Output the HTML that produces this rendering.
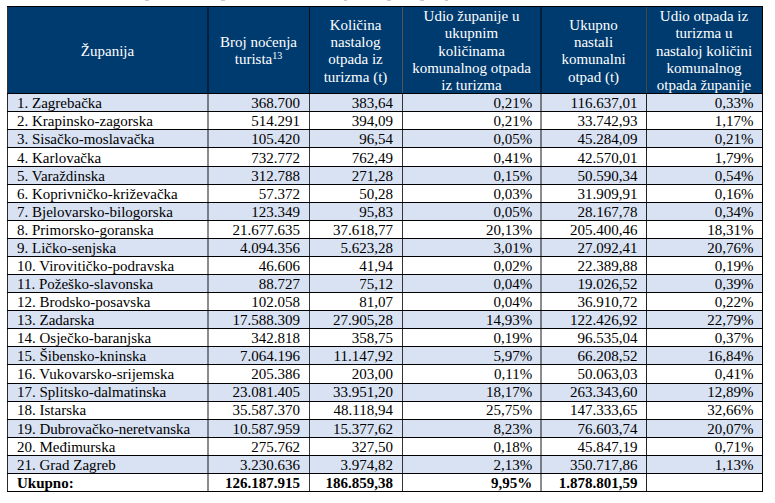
<!DOCTYPE html><html><head><meta charset="utf-8"><style>
html,body{margin:0;padding:0;background:#fff;width:775px;height:503px;overflow:hidden;position:relative}
*{box-sizing:border-box}
.t{position:absolute;font-family:"Liberation Serif",serif;font-size:15px;line-height:18px;white-space:nowrap;color:#000}
.r{text-align:right}
.b{font-weight:bold}
.f{position:absolute}
.hl{position:absolute;font-family:"Liberation Serif",serif;font-size:15px;line-height:16px;color:#fff;text-align:center;white-space:nowrap}
sup{font-size:10px;line-height:0;vertical-align:5px}
</style></head><body>
<div class="f" style="left:7px;top:6px;width:755px;height:87px;background:#003B70"></div>
<div class="f" style="left:7px;top:93.00px;width:755px;height:18.00px;background:#D9E2F3"></div>
<div class="f" style="left:7px;top:129.00px;width:755px;height:18.00px;background:#D9E2F3"></div>
<div class="f" style="left:7px;top:166.00px;width:755px;height:18.00px;background:#D9E2F3"></div>
<div class="f" style="left:7px;top:202.00px;width:755px;height:18.00px;background:#D9E2F3"></div>
<div class="f" style="left:7px;top:238.00px;width:755px;height:18.00px;background:#D9E2F3"></div>
<div class="f" style="left:7px;top:274.00px;width:755px;height:18.00px;background:#D9E2F3"></div>
<div class="f" style="left:7px;top:310.00px;width:755px;height:18.00px;background:#D9E2F3"></div>
<div class="f" style="left:7px;top:346.00px;width:755px;height:18.00px;background:#D9E2F3"></div>
<div class="f" style="left:7px;top:383.00px;width:755px;height:18.00px;background:#D9E2F3"></div>
<div class="f" style="left:7px;top:419.00px;width:755px;height:18.00px;background:#D9E2F3"></div>
<div class="f" style="left:7px;top:455.00px;width:755px;height:18.00px;background:#D9E2F3"></div>
<div class="hl" style="left:7px;top:43px;width:201px">Županija</div>
<div class="hl" style="left:208px;top:34px;width:101px">Broj noćenja</div>
<div class="hl" style="left:208px;top:51px;width:101px">turista<sup>13</sup></div>
<div class="hl" style="left:309px;top:17px;width:93px">Količina</div>
<div class="hl" style="left:309px;top:34px;width:93px">nastalog</div>
<div class="hl" style="left:309px;top:51px;width:93px">otpada iz</div>
<div class="hl" style="left:309px;top:69px;width:93px">turizma (t)</div>
<div class="hl" style="left:402px;top:8px;width:139px">Udio županije u</div>
<div class="hl" style="left:402px;top:25px;width:139px">ukupnim</div>
<div class="hl" style="left:402px;top:43px;width:139px">količinama</div>
<div class="hl" style="left:402px;top:60px;width:139px">komunalnog otpada</div>
<div class="hl" style="left:402px;top:77px;width:139px">iz turizma</div>
<div class="hl" style="left:541px;top:17px;width:105px">Ukupno</div>
<div class="hl" style="left:541px;top:34px;width:105px">nastali</div>
<div class="hl" style="left:541px;top:51px;width:105px">komunalni</div>
<div class="hl" style="left:541px;top:69px;width:105px">otpad (t)</div>
<div class="hl" style="left:646px;top:8px;width:116px">Udio otpada iz</div>
<div class="hl" style="left:646px;top:25px;width:116px">turizma u</div>
<div class="hl" style="left:646px;top:43px;width:116px">nastaloj količini</div>
<div class="hl" style="left:646px;top:60px;width:116px">komunalnog</div>
<div class="hl" style="left:646px;top:77px;width:116px">otpada županije</div>
<div class="t" style="left:17px;top:93.94px">1. Zagrebačka</div>
<div class="t r" style="right:475.00px;top:93.94px">368.700</div>
<div class="t r" style="right:382.00px;top:93.94px">383,64</div>
<div class="t r" style="right:242.80px;top:93.94px">0,21%</div>
<div class="t r" style="right:137.50px;top:93.94px">116.637,01</div>
<div class="t r" style="right:21.50px;top:93.94px">0,33%</div>
<div class="t" style="left:17px;top:111.94px">2. Krapinsko-zagorska</div>
<div class="t r" style="right:475.00px;top:111.94px">514.291</div>
<div class="t r" style="right:382.00px;top:111.94px">394,09</div>
<div class="t r" style="right:242.80px;top:111.94px">0,21%</div>
<div class="t r" style="right:137.50px;top:111.94px">33.742,93</div>
<div class="t r" style="right:21.50px;top:111.94px">1,17%</div>
<div class="t" style="left:17px;top:129.94px">3. Sisačko-moslavačka</div>
<div class="t r" style="right:475.00px;top:129.94px">105.420</div>
<div class="t r" style="right:382.00px;top:129.94px">96,54</div>
<div class="t r" style="right:242.80px;top:129.94px">0,05%</div>
<div class="t r" style="right:137.50px;top:129.94px">45.284,09</div>
<div class="t r" style="right:21.50px;top:129.94px">0,21%</div>
<div class="t" style="left:17px;top:148.94px">4. Karlovačka</div>
<div class="t r" style="right:475.00px;top:148.94px">732.772</div>
<div class="t r" style="right:382.00px;top:148.94px">762,49</div>
<div class="t r" style="right:242.80px;top:148.94px">0,41%</div>
<div class="t r" style="right:137.50px;top:148.94px">42.570,01</div>
<div class="t r" style="right:21.50px;top:148.94px">1,79%</div>
<div class="t" style="left:17px;top:166.94px">5. Varaždinska</div>
<div class="t r" style="right:475.00px;top:166.94px">312.788</div>
<div class="t r" style="right:382.00px;top:166.94px">271,28</div>
<div class="t r" style="right:242.80px;top:166.94px">0,15%</div>
<div class="t r" style="right:137.50px;top:166.94px">50.590,34</div>
<div class="t r" style="right:21.50px;top:166.94px">0,54%</div>
<div class="t" style="left:17px;top:184.94px">6. Koprivničko-križevačka</div>
<div class="t r" style="right:475.00px;top:184.94px">57.372</div>
<div class="t r" style="right:382.00px;top:184.94px">50,28</div>
<div class="t r" style="right:242.80px;top:184.94px">0,03%</div>
<div class="t r" style="right:137.50px;top:184.94px">31.909,91</div>
<div class="t r" style="right:21.50px;top:184.94px">0,16%</div>
<div class="t" style="left:17px;top:202.94px">7. Bjelovarsko-bilogorska</div>
<div class="t r" style="right:475.00px;top:202.94px">123.349</div>
<div class="t r" style="right:382.00px;top:202.94px">95,83</div>
<div class="t r" style="right:242.80px;top:202.94px">0,05%</div>
<div class="t r" style="right:137.50px;top:202.94px">28.167,78</div>
<div class="t r" style="right:21.50px;top:202.94px">0,34%</div>
<div class="t" style="left:17px;top:220.94px">8. Primorsko-goranska</div>
<div class="t r" style="right:475.00px;top:220.94px">21.677.635</div>
<div class="t r" style="right:382.00px;top:220.94px">37.618,77</div>
<div class="t r" style="right:242.80px;top:220.94px">20,13%</div>
<div class="t r" style="right:137.50px;top:220.94px">205.400,46</div>
<div class="t r" style="right:21.50px;top:220.94px">18,31%</div>
<div class="t" style="left:17px;top:238.94px">9. Ličko-senjska</div>
<div class="t r" style="right:475.00px;top:238.94px">4.094.356</div>
<div class="t r" style="right:382.00px;top:238.94px">5.623,28</div>
<div class="t r" style="right:242.80px;top:238.94px">3,01%</div>
<div class="t r" style="right:137.50px;top:238.94px">27.092,41</div>
<div class="t r" style="right:21.50px;top:238.94px">20,76%</div>
<div class="t" style="left:17px;top:256.94px">10. Virovitičko-podravska</div>
<div class="t r" style="right:475.00px;top:256.94px">46.606</div>
<div class="t r" style="right:382.00px;top:256.94px">41,94</div>
<div class="t r" style="right:242.80px;top:256.94px">0,02%</div>
<div class="t r" style="right:137.50px;top:256.94px">22.389,88</div>
<div class="t r" style="right:21.50px;top:256.94px">0,19%</div>
<div class="t" style="left:17px;top:274.94px">11. Požeško-slavonska</div>
<div class="t r" style="right:475.00px;top:274.94px">88.727</div>
<div class="t r" style="right:382.00px;top:274.94px">75,12</div>
<div class="t r" style="right:242.80px;top:274.94px">0,04%</div>
<div class="t r" style="right:137.50px;top:274.94px">19.026,52</div>
<div class="t r" style="right:21.50px;top:274.94px">0,39%</div>
<div class="t" style="left:17px;top:292.94px">12. Brodsko-posavska</div>
<div class="t r" style="right:475.00px;top:292.94px">102.058</div>
<div class="t r" style="right:382.00px;top:292.94px">81,07</div>
<div class="t r" style="right:242.80px;top:292.94px">0,04%</div>
<div class="t r" style="right:137.50px;top:292.94px">36.910,72</div>
<div class="t r" style="right:21.50px;top:292.94px">0,22%</div>
<div class="t" style="left:17px;top:310.94px">13. Zadarska</div>
<div class="t r" style="right:475.00px;top:310.94px">17.588.309</div>
<div class="t r" style="right:382.00px;top:310.94px">27.905,28</div>
<div class="t r" style="right:242.80px;top:310.94px">14,93%</div>
<div class="t r" style="right:137.50px;top:310.94px">122.426,92</div>
<div class="t r" style="right:21.50px;top:310.94px">22,79%</div>
<div class="t" style="left:17px;top:328.94px">14. Osječko-baranjska</div>
<div class="t r" style="right:475.00px;top:328.94px">342.818</div>
<div class="t r" style="right:382.00px;top:328.94px">358,75</div>
<div class="t r" style="right:242.80px;top:328.94px">0,19%</div>
<div class="t r" style="right:137.50px;top:328.94px">96.535,04</div>
<div class="t r" style="right:21.50px;top:328.94px">0,37%</div>
<div class="t" style="left:17px;top:346.94px">15. Šibensko-kninska</div>
<div class="t r" style="right:475.00px;top:346.94px">7.064.196</div>
<div class="t r" style="right:382.00px;top:346.94px">11.147,92</div>
<div class="t r" style="right:242.80px;top:346.94px">5,97%</div>
<div class="t r" style="right:137.50px;top:346.94px">66.208,52</div>
<div class="t r" style="right:21.50px;top:346.94px">16,84%</div>
<div class="t" style="left:17px;top:364.94px">16. Vukovarsko-srijemska</div>
<div class="t r" style="right:475.00px;top:364.94px">205.386</div>
<div class="t r" style="right:382.00px;top:364.94px">203,00</div>
<div class="t r" style="right:242.80px;top:364.94px">0,11%</div>
<div class="t r" style="right:137.50px;top:364.94px">50.063,03</div>
<div class="t r" style="right:21.50px;top:364.94px">0,41%</div>
<div class="t" style="left:17px;top:382.94px">17. Splitsko-dalmatinska</div>
<div class="t r" style="right:475.00px;top:382.94px">23.081.405</div>
<div class="t r" style="right:382.00px;top:382.94px">33.951,20</div>
<div class="t r" style="right:242.80px;top:382.94px">18,17%</div>
<div class="t r" style="right:137.50px;top:382.94px">263.343,60</div>
<div class="t r" style="right:21.50px;top:382.94px">12,89%</div>
<div class="t" style="left:17px;top:400.94px">18. Istarska</div>
<div class="t r" style="right:475.00px;top:400.94px">35.587.370</div>
<div class="t r" style="right:382.00px;top:400.94px">48.118,94</div>
<div class="t r" style="right:242.80px;top:400.94px">25,75%</div>
<div class="t r" style="right:137.50px;top:400.94px">147.333,65</div>
<div class="t r" style="right:21.50px;top:400.94px">32,66%</div>
<div class="t" style="left:17px;top:419.94px">19. Dubrovačko-neretvanska</div>
<div class="t r" style="right:475.00px;top:419.94px">10.587.959</div>
<div class="t r" style="right:382.00px;top:419.94px">15.377,62</div>
<div class="t r" style="right:242.80px;top:419.94px">8,23%</div>
<div class="t r" style="right:137.50px;top:419.94px">76.603,74</div>
<div class="t r" style="right:21.50px;top:419.94px">20,07%</div>
<div class="t" style="left:17px;top:437.94px">20. Međimurska</div>
<div class="t r" style="right:475.00px;top:437.94px">275.762</div>
<div class="t r" style="right:382.00px;top:437.94px">327,50</div>
<div class="t r" style="right:242.80px;top:437.94px">0,18%</div>
<div class="t r" style="right:137.50px;top:437.94px">45.847,19</div>
<div class="t r" style="right:21.50px;top:437.94px">0,71%</div>
<div class="t" style="left:17px;top:455.94px">21. Grad Zagreb</div>
<div class="t r" style="right:475.00px;top:455.94px">3.230.636</div>
<div class="t r" style="right:382.00px;top:455.94px">3.974,82</div>
<div class="t r" style="right:242.80px;top:455.94px">2,13%</div>
<div class="t r" style="right:137.50px;top:455.94px">350.717,86</div>
<div class="t r" style="right:21.50px;top:455.94px">1,13%</div>
<div class="t b" style="left:17px;top:473.94px">Ukupno:</div>
<div class="t b r" style="right:475.00px;top:473.94px">126.187.915</div>
<div class="t b r" style="right:382.00px;top:473.94px">186.859,38</div>
<div class="t b r" style="right:242.80px;top:473.94px">9,95%</div>
<div class="t b r" style="right:137.50px;top:473.94px">1.878.801,59</div>
<div class="f" style="left:7px;top:6px;width:756px;height:1px;background:#000"></div>
<div class="f" style="left:7px;top:93px;width:756px;height:1px;background:#000"></div>
<div class="f" style="left:7px;top:111.00px;width:756px;height:1px;background:#000"></div>
<div class="f" style="left:7px;top:129.00px;width:756px;height:1px;background:#000"></div>
<div class="f" style="left:7px;top:147.00px;width:756px;height:1px;background:#000"></div>
<div class="f" style="left:7px;top:166.00px;width:756px;height:1px;background:#000"></div>
<div class="f" style="left:7px;top:184.00px;width:756px;height:1px;background:#000"></div>
<div class="f" style="left:7px;top:202.00px;width:756px;height:1px;background:#000"></div>
<div class="f" style="left:7px;top:220.00px;width:756px;height:1px;background:#000"></div>
<div class="f" style="left:7px;top:238.00px;width:756px;height:1px;background:#000"></div>
<div class="f" style="left:7px;top:256.00px;width:756px;height:1px;background:#000"></div>
<div class="f" style="left:7px;top:274.00px;width:756px;height:1px;background:#000"></div>
<div class="f" style="left:7px;top:292.00px;width:756px;height:1px;background:#000"></div>
<div class="f" style="left:7px;top:310.00px;width:756px;height:1px;background:#000"></div>
<div class="f" style="left:7px;top:328.00px;width:756px;height:1px;background:#000"></div>
<div class="f" style="left:7px;top:346.00px;width:756px;height:1px;background:#000"></div>
<div class="f" style="left:7px;top:364.00px;width:756px;height:1px;background:#000"></div>
<div class="f" style="left:7px;top:383.00px;width:756px;height:1px;background:#000"></div>
<div class="f" style="left:7px;top:401.00px;width:756px;height:1px;background:#000"></div>
<div class="f" style="left:7px;top:419.00px;width:756px;height:1px;background:#000"></div>
<div class="f" style="left:7px;top:437.00px;width:756px;height:1px;background:#000"></div>
<div class="f" style="left:7px;top:455.00px;width:756px;height:1px;background:#000"></div>
<div class="f" style="left:7px;top:473.00px;width:756px;height:1px;background:#000"></div>
<div class="f" style="left:7px;top:491.00px;width:756px;height:1px;background:#000"></div>
<div class="f" style="left:7px;top:7px;width:1px;height:86px;background:#333"></div>
<div class="f" style="left:7px;top:94px;width:1px;height:397px;background:#2a2a2a"></div>
<div class="f" style="left:207px;top:7px;width:2px;height:86px;background:rgba(0,0,0,0.45)"></div>
<div class="f" style="left:207px;top:94px;width:2px;height:397px;background:rgba(0,0,0,0.45)"></div>
<div class="f" style="left:309px;top:7px;width:1px;height:86px;background:#0a0f14"></div>
<div class="f" style="left:309px;top:94px;width:1px;height:397px;background:#383838"></div>
<div class="f" style="left:402px;top:7px;width:1px;height:86px;background:#58544f"></div>
<div class="f" style="left:402px;top:94px;width:1px;height:397px;background:#333"></div>
<div class="f" style="left:540px;top:7px;width:2px;height:86px;background:rgba(0,0,0,0.45)"></div>
<div class="f" style="left:540px;top:94px;width:2px;height:397px;background:rgba(0,0,0,0.45)"></div>
<div class="f" style="left:646px;top:7px;width:1px;height:86px;background:#484848"></div>
<div class="f" style="left:646px;top:94px;width:1px;height:397px;background:#222"></div>
<div class="f" style="left:762px;top:7px;width:1px;height:86px;background:#000"></div>
<div class="f" style="left:762px;top:94px;width:1px;height:397px;background:#000"></div>
<div class="f" style="left:7px;top:6px;width:756px;height:1px;background:#000"></div>
<div class="f" style="left:7px;top:93px;width:756px;height:1px;background:#000"></div>
<div class="f" style="left:7px;top:111px;width:756px;height:1px;background:#000"></div>
<div class="f" style="left:7px;top:129px;width:756px;height:1px;background:#000"></div>
<div class="f" style="left:7px;top:147px;width:756px;height:1px;background:#000"></div>
<div class="f" style="left:7px;top:166px;width:756px;height:1px;background:#000"></div>
<div class="f" style="left:7px;top:184px;width:756px;height:1px;background:#000"></div>
<div class="f" style="left:7px;top:202px;width:756px;height:1px;background:#000"></div>
<div class="f" style="left:7px;top:220px;width:756px;height:1px;background:#000"></div>
<div class="f" style="left:7px;top:238px;width:756px;height:1px;background:#000"></div>
<div class="f" style="left:7px;top:256px;width:756px;height:1px;background:#000"></div>
<div class="f" style="left:7px;top:274px;width:756px;height:1px;background:#000"></div>
<div class="f" style="left:7px;top:292px;width:756px;height:1px;background:#000"></div>
<div class="f" style="left:7px;top:310px;width:756px;height:1px;background:#000"></div>
<div class="f" style="left:7px;top:328px;width:756px;height:1px;background:#000"></div>
<div class="f" style="left:7px;top:346px;width:756px;height:1px;background:#000"></div>
<div class="f" style="left:7px;top:364px;width:756px;height:1px;background:#000"></div>
<div class="f" style="left:7px;top:383px;width:756px;height:1px;background:#000"></div>
<div class="f" style="left:7px;top:401px;width:756px;height:1px;background:#000"></div>
<div class="f" style="left:7px;top:419px;width:756px;height:1px;background:#000"></div>
<div class="f" style="left:7px;top:437px;width:756px;height:1px;background:#000"></div>
<div class="f" style="left:7px;top:455px;width:756px;height:1px;background:#000"></div>
<div class="f" style="left:7px;top:473px;width:756px;height:1px;background:#000"></div>
<div class="f" style="left:7px;top:491px;width:756px;height:1px;background:#000"></div>
<div class="f" style="left:145px;top:0;width:4px;height:1px;background:#c6c9d0"></div>
<div class="f" style="left:221px;top:0;width:4px;height:1px;background:#c6c9d0"></div>
<div class="f" style="left:344px;top:0;width:3px;height:1px;background:#c6c9d0"></div>
<div class="f" style="left:387px;top:0;width:4px;height:1px;background:#c6c9d0"></div>
<div class="f" style="left:420px;top:0;width:4px;height:1px;background:#c6c9d0"></div>
<div class="f" style="left:445px;top:0;width:3px;height:1px;background:#c6c9d0"></div>
</body></html>
